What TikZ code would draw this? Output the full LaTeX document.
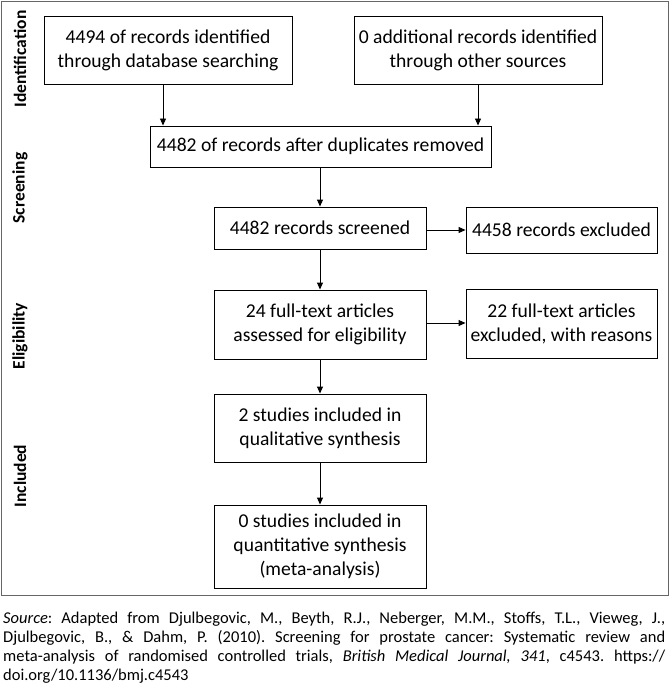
\documentclass[tikz,border=0pt]{standalone}
\usepackage{fontspec}
\setmainfont{Carlito}
\usetikzlibrary{arrows.meta}
\frenchspacing
\begin{document}
\begin{tikzpicture}[x=1pt,y=-1pt,
  box/.style={draw=black, line width=0.9pt, align=center, inner sep=2pt, font=\fontsize{19.6}{24}\selectfont},
  arr/.style={-{Triangle[length=7pt,width=6pt]}, line width=0.9pt},
  phase/.style={rotate=90, font=\fontsize{17.5}{20}\selectfont\bfseries}]
\useasboundingbox (0,0) rectangle (670,690);
\draw[draw=black!60, line width=0.9pt] (1.5,1.5) rectangle (668.5,595);
\node[phase] (pid) at (20,59) {Identification};
\node[phase] (psc) at (20,188) {Screening};
\node[phase] (pel) at (20,336) {Eligibility};
\node[phase] (pin) at (20,476) {Included};
\node[box, minimum width=248pt, minimum height=68pt] (A) at (168,50) {4494 of records identified\\through database searching};
\node[box, minimum width=248pt, minimum height=68pt] (B) at (478,50) {0 additional records identified\\through other sources};
\node[box, minimum width=341pt, minimum height=41pt] (C) at (320.5,146.5) {4482 of records after duplicates removed};
\node[box, minimum width=212pt, minimum height=42pt] (D) at (320,228) {4482 records screened};
\node[box, minimum width=191pt, minimum height=46pt] (E) at (561.5,230) {4458 records excluded};
\node[box, minimum width=212pt, minimum height=69pt] (F) at (320,324.5) {24 full-text articles\\assessed for eligibility};
\node[box, minimum width=191pt, minimum height=69pt] (G) at (561.5,324) {22 full-text articles\\excluded, with reasons};
\node[box, minimum width=212pt, minimum height=68pt] (H) at (320,428) {2 studies included in\\qualitative synthesis};
\node[box, minimum width=212pt, minimum height=83pt] (I) at (320,546.5) {0 studies included in\\quantitative synthesis\\(meta-analysis)};
\draw[arr] ([xshift=-5pt]A.south) -- ([xshift=-5pt]A.south |- C.north);
\draw[arr] (B.south) -- (B.south |- C.north);
\draw[arr] (C.south -| D.north) -- (D.north);
\draw[arr] (D.east |- 0,230) -- (E.west |- 0,230);
\draw[arr] (D.south) -- (F.north);
\draw[arr] (F.east |- 0,323) -- (G.west |- 0,323);
\draw[arr] (F.south) -- (H.north);
\draw[arr] (H.south) -- (I.north);
\node[anchor=north west, text width=662pt, align=justify, inner sep=0pt, font=\fontsize{16.5}{19}\selectfont] (cap) at (3,612) {\textit{Source}: Adapted from Djulbegovic, M., Beyth, R.J., Neberger, M.M., Stoffs, T.L., Vieweg, J.,\linebreak Djulbegovic, B., \& Dahm, P. (2010). Screening for prostate cancer: Systematic review and\linebreak meta-analysis of randomised controlled trials, \textit{British Medical Journal, 341}, c4543. https://\linebreak doi.org/10.1136/bmj.c4543};
\end{tikzpicture}
\end{document}
